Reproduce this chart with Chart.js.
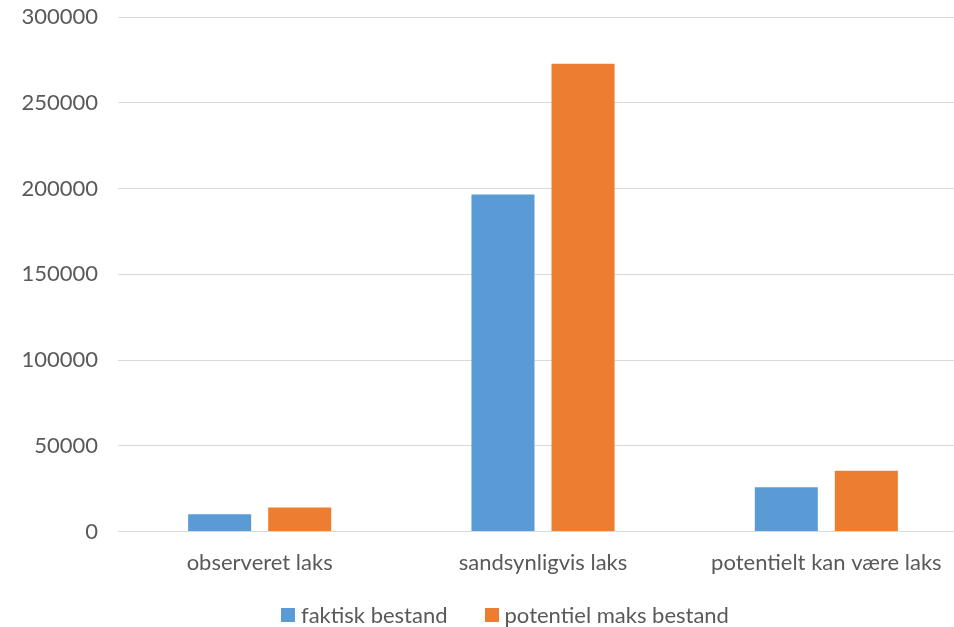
<!DOCTYPE html>
<html>
<head>
<meta charset="utf-8">
<script src="https://cdn.jsdelivr.net/npm/chart.js"></script>
<style>
  html, body { margin: 0; padding: 0; background: #fff; overflow: hidden; }
  #wrap { position: relative; width: 968px; height: 627px; }
  #legend {
    position: absolute; left: 281px; top: 601px;
    font-family: Lato, sans-serif; font-size: 22px; color: #595959;
    display: flex; align-items: center; white-space: nowrap;
  }
  #legend span.box { display: inline-block; width: 14px; height: 14px; margin-right: 6px; }
  #legend span.item { display: inline-flex; align-items: center; margin-right: 37px; }
</style>
</head>
<body>
<div id="wrap">
  <canvas id="chart" width="968" height="627"></canvas>
  <div id="legend"></div>
</div>
<script>
const categories = ["observeret laks", "sandsynligvis laks", "potentielt kan være laks"];
const faktisk = [10100, 196500, 25800];
const potentiel = [14000, 272700, 35500];
const seriesNames = ["faktisk bestand", "potentiel maks bestand"];
const colors = ["#5b9bd5", "#ed7d31"];

const textColor = "#595959";
const gridColor = "#d9d9d9";

const data = {
  labels: categories,
  datasets: [
    { label: seriesNames[0], data: faktisk, backgroundColor: colors[0] },
    { label: seriesNames[1], data: potentiel, backgroundColor: colors[1] },
  ],
};

const chart = new Chart(document.getElementById("chart"), {
  type: "bar",
  data: data,
  options: {
    responsive: false,
    animation: false,
    layout: { padding: { top: 0, bottom: 41, left: 0, right: 0 } },
    datasets: {
      bar: { categoryPercentage: 0.565, barPercentage: 0.7875 },
    },
    plugins: {
      legend: { display: false },
      tooltip: { enabled: false },
    },
    scales: {
      x: {
        grid: { display: false },
        border: { color: gridColor, width: 1 },
        ticks: {
          color: textColor,
          font: { family: "Lato", size: 22 },
          padding: 10,
        },
      },
      y: {
        min: 0,
        max: 300000,
        afterFit: (axis) => {
          axis.width = 118;
          axis.paddingTop = 17;
        },
        ticks: {
          stepSize: 50000,
          color: textColor,
          font: { family: "Lato", size: 22 },
          padding: 20,
          callback: (v) => String(v),
        },
        grid: { color: gridColor, lineWidth: 1, drawTicks: false },
        border: { display: false },
      },
    },
  },
});

// legend as html, built from the datasets
const legendEl = document.getElementById("legend");
data.datasets.forEach((ds) => {
  const item = document.createElement("span");
  item.className = "item";
  const box = document.createElement("span");
  box.className = "box";
  box.style.background = ds.backgroundColor;
  item.appendChild(box);
  item.appendChild(document.createTextNode(ds.label));
  legendEl.appendChild(item);
});
</script>
</body>
</html>
